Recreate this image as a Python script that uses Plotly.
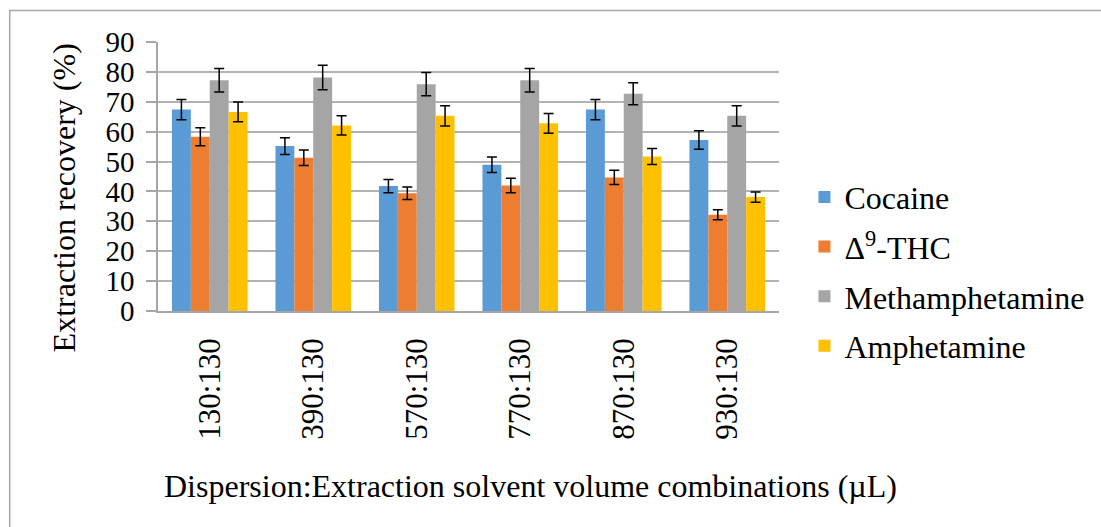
import plotly.graph_objects as go

categories = ["130:130", "390:130", "570:130", "770:130", "870:130", "930:130"]
series_names = ["Cocaine", "Δ<sup>9</sup>-THC", "Methamphetamine", "Amphetamine"]
cocaine = [67.4, 55.2, 41.8, 48.9, 67.4, 57.2]
thc = [58.3, 51.3, 39.4, 42.0, 44.7, 32.2]
meth = [77.2, 78.1, 75.9, 77.2, 72.7, 65.3]
amph = [66.6, 62.1, 65.3, 62.8, 51.7, 38.1]
cocaine_err = [3.4, 2.8, 2.2, 2.6, 3.4, 3.1]
thc_err = [3.0, 2.6, 2.1, 2.4, 2.4, 1.7]
meth_err = [3.9, 4.1, 3.9, 3.9, 3.7, 3.4]
amph_err = [3.3, 3.2, 3.4, 3.3, 2.7, 1.7]
colors = ["#5B9BD5", "#ED7D31", "#A5A5A5", "#FFC000"]

FONT = "Times New Roman, Liberation Serif, serif"

fig = go.Figure()
for i, (name, vals, errs) in enumerate(zip(series_names,
                                            [cocaine, thc, meth, amph],
                                            [cocaine_err, thc_err, meth_err, amph_err])):
    fig.add_trace(go.Bar(
        x=categories, y=vals, name=name,
        marker=dict(color=colors[i], line=dict(width=0)),
        error_y=dict(type="data", array=errs, visible=True,
                     color="black", thickness=1.5, width=5),
        legendgroup=f"g{i}",
    ))

fig.update_layout(
    width=1101, height=527,
    margin=dict(l=158, r=319, t=41.5, b=215.5),
    paper_bgcolor="white", plot_bgcolor="white",
    barmode="group", bargap=0.27, bargroupgap=0,
    font=dict(family=FONT, color="black", size=30),
    showlegend=True,
    legend=dict(x=1.041, y=(311.5 - 272) / 270, xanchor="left", yanchor="middle",
                font=dict(family=FONT, size=32, color="black"),
                tracegroupgap=5, bgcolor="rgba(0,0,0,0)"),
    xaxis=dict(
        showline=True, linecolor="#a6a6a6", linewidth=1.5,
        ticks="", tickangle=-90, tickfont=dict(size=31),
        ticklabelstandoff=13, showgrid=False,
    ),
    yaxis=dict(
        range=[0, 90], dtick=10, showline=True, linecolor="#a6a6a6", linewidth=1.5,
        ticks="outside", ticklen=10, tickcolor="#a6a6a6", tickwidth=1.5,
        showgrid=True, gridcolor="#b3b3b3", gridwidth=1.5,
        tickfont=dict(size=29), zeroline=False, ticklabelstandoff=6,
    ),
    annotations=[
        dict(
            text="Dispersion:Extraction solvent volume combinations (µL)",
            xref="paper", yref="paper", x=(532 - 158) / 624, y=(311.5 - 487) / 270,
            xanchor="center", yanchor="middle", showarrow=False,
            font=dict(family=FONT, size=32, color="black"),
        ),
        dict(
            text="Extraction recovery (%)",
            xref="paper", yref="paper", x=(63 - 158) / 624, y=(311.5 - 198) / 270,
            xanchor="center", yanchor="middle", showarrow=False, textangle=-90,
            font=dict(family=FONT, size=32, color="black"),
        ),
    ],
    shapes=[dict(
        type="rect", xref="paper", yref="paper",
        x0=(9 - 158) / 624, x1=(1115 - 158) / 624,
        y0=(311.5 - 540) / 270, y1=(311.5 - 10) / 270,
        line=dict(color="#a6a6a6", width=1.5), fillcolor="rgba(0,0,0,0)",
        layer="below",
    )],
)

fig.write_html("out.html")
